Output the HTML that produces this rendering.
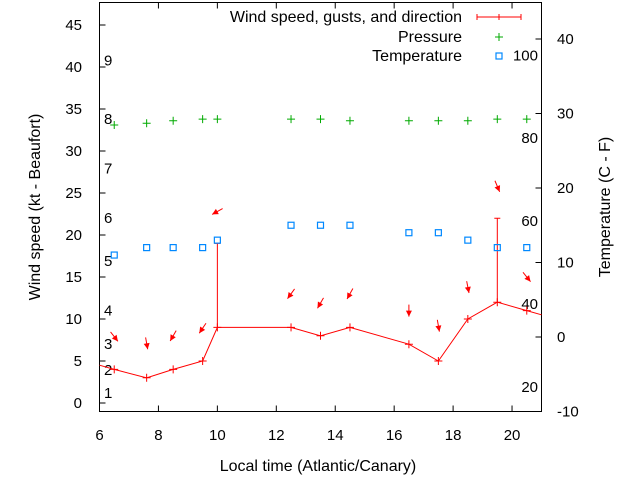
<!DOCTYPE html>
<html><head><meta charset="utf-8"><style>
body{margin:0;background:#fff}
svg{font-family:"Liberation Sans",sans-serif;font-size:15px}
.big{font-size:16px}
</style></head><body>
<svg id="c" width="640" height="480" xmlns="http://www.w3.org/2000/svg"></svg>
<script>
const times=[6.5,7.6,8.5,9.5,10,12.5,13.5,14.5,16.5,17.5,18.5,19.5,20.5];
const windSpeed=[4,3,4,5,9,9,8,9,7,5,10,12,11];
const windStart=4.5, windEnd=10.5;
const gustTimes=[10,19.5];
const gustBase=[9,12];
const gustTop=[19,22];
const pressure=[33.1,33.3,33.6,33.8,33.8,33.8,33.8,33.6,33.6,33.6,33.6,33.8,33.8];
const temperature=[11,12,12,12,13,15,15,15,14,14,13,12,12];
const arrowY=[7.9,7.1,8.0,8.9,22.8,13.0,11.9,13.0,11.0,9.2,13.8,25.8,15.0];
const arrowAngle=[52,80,120,124,151,126,120,119,90,80,79,67,51];
const xTicks=[6,8,10,12,14,16,18,20];
const yTicks=[0,5,10,15,20,25,30,35,40,45];
const y2Ticks=[-10,0,10,20,30,40];
const beaufortLabels=["1","2","3","4","5","6","7","8","9"];
const beaufortY=[1.2,3.9,7.0,11.0,16.9,22.0,27.9,33.8,40.8];
const fahrenheitLabels=["20","40","60","80","100"];
const fahrenheitVal=[-6.7,4.4,15.6,26.7,37.8];

const L=99.5,R=541.5,T=2.5,B=411.5;
const X=v=>L+(v-6)*(R-L)/15;
const Y=v=>403-v*8.4;
const Y2=v=>337-v*7.45;
const svg=document.getElementById('c');
const NS='http://www.w3.org/2000/svg';
function mk(tag,attrs,name,parent){const e=document.createElementNS(NS,tag);for(const k in attrs)e.setAttribute(k,attrs[k]);


(parent||svg).appendChild(e);return e;}
function txt(x,y,s,anchor,name,extra){const e=mk('text',Object.assign({x:x,y:y,'text-anchor':anchor||'middle',fill:'#000'},extra||{}),name);e.textContent=s;return e;}

mk('rect',{x:L,y:T,width:R-L,height:B-T,fill:'none',stroke:'#000','stroke-width':1},'plot-border');
xTicks.forEach(t=>{const x=X(t);mk('line',{x1:x,y1:B,x2:x,y2:B-6,stroke:'#000'},'x-tick');mk('line',{x1:x,y1:T,x2:x,y2:T+6,stroke:'#000'},'x-tick-top');txt(x,440,String(t),'middle','x-tick-label');});
yTicks.forEach(t=>{const y=Y(t);mk('line',{x1:L,y1:y,x2:L+6,y2:y,stroke:'#000'},'y-tick');txt(82,y+5,String(t),'end','y-tick-label');});
y2Ticks.forEach(t=>{const y=Y2(t);mk('line',{x1:R,y1:y,x2:R-6,y2:y,stroke:'#000'},'y2-tick');txt(557,y+5,String(t),'start','y2-tick-label');});
txt(318,471,'Local time (Atlantic/Canary)','middle','x-axis-title',{class:'big'});
txt(40,207,'Wind speed (kt - Beaufort)','middle','y-axis-title',{class:'big',transform:'rotate(-90 40 207)'});
txt(610,207,'Temperature (C - F)','middle','y2-axis-title',{class:'big',transform:'rotate(-90 610 207)'});
beaufortLabels.forEach((s,i)=>txt(104,Y(beaufortY[i])+5,s,'start','beaufort-label'));
fahrenheitLabels.forEach((s,i)=>txt(538,Y2(fahrenheitVal[i])+5,s,'end','fahrenheit-label'));

let pts=[[X(6),Y(windStart)]];times.forEach((t,i)=>pts.push([X(t),Y(windSpeed[i])]));pts.push([X(21),Y(windEnd)]);
mk('polyline',{points:pts.map(p=>p.join(',')).join(' '),fill:'none',stroke:'#f00','stroke-width':1},'wind-speed-line');
times.forEach((t,i)=>{const x=X(t),y=Y(windSpeed[i]);mk('path',{d:`M${x-4},${y}H${x+4}M${x},${y-4}V${y+4}`,stroke:'#f00'},'wind-point');});
gustTimes.forEach((t,i)=>{const x=X(t);mk('path',{d:`M${x},${Y(gustBase[i])}V${Y(gustTop[i])}M${x-3},${Y(gustTop[i])}H${x+3}`,stroke:'#f00'},'gust-bar');});
arrowY.forEach((v,i)=>{const cx=X(times[i]),cy=Y(v),a=arrowAngle[i]*Math.PI/180,dx=Math.cos(a),dy=Math.sin(a);
const x1=cx-dx*6,y1=cy-dy*6,x2=cx+dx*6,y2=cy+dy*6;
const px=-dy,py=dx;
mk('line',{x1:x1,y1:y1,x2:x2,y2:y2,stroke:'#f00'},'wind-direction-arrow');
mk('polygon',{points:`${x2},${y2} ${x2-dx*6+px*3},${y2-dy*6+py*3} ${x2-dx*6-px*3},${y2-dy*6-py*3}`,fill:'#f00'},'arrow-head');});
times.forEach((t,i)=>{const x=X(t),y=Y(pressure[i]);mk('path',{d:`M${x-4},${y}H${x+4}M${x},${y-4}V${y+4}`,stroke:'#0a0'},'pressure-point');});
times.forEach((t,i)=>{const x=X(t),y=Y2(temperature[i]);mk('rect',{x:x-3,y:y-3,width:6,height:6,fill:'none',stroke:'#08f','stroke-width':1.2},'temperature-point');});
txt(462,22,'Wind speed, gusts, and direction','end','legend-wind-label',{class:'big'});
mk('path',{d:'M477,17H521M477,14V20M521,14V20M499,14V20',stroke:'#f00'},'legend-wind-sample');
txt(462,42,'Pressure','end','legend-pressure-label',{class:'big'});
mk('path',{d:'M495,37H503M499,33V41',stroke:'#0a0'},'legend-pressure-sample');
txt(462,61,'Temperature','end','legend-temperature-label',{class:'big'});
mk('rect',{x:496,y:53,width:6,height:6,fill:'none',stroke:'#08f','stroke-width':1.2},'legend-temperature-sample');
</script>
</body></html>
